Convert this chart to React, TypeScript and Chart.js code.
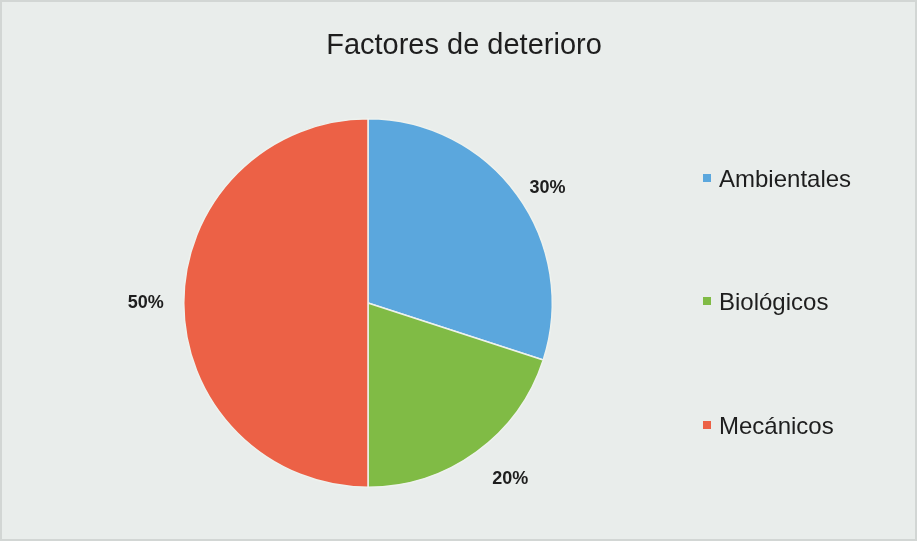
import React, { useEffect, useRef } from "react";
import { Chart, registerables } from "chart.js";

Chart.register(...registerables);

const title = "Factores de deterioro";
const categories = ["Ambientales", "Biológicos", "Mecánicos"];
const values = [30, 20, 50];
const valueLabels = ["30%", "20%", "50%"];
const colors = ["#5ba7dd", "#80bb45", "#ec6146"];

const W = 917;
const H = 541;
const FONT = "'Liberation Sans', Arial, sans-serif";

export default function App() {
  const ref = useRef<HTMLCanvasElement | null>(null);

  useEffect(() => {
    document.body.style.margin = "0";
    const canvas = ref.current;
    if (!canvas) return;

    const overlay = {
      id: "overlay",
      afterDraw(chart: any) {
        const ctx = chart.ctx;
        ctx.save();
        // title
        ctx.fillStyle = "#1e1e1e";
        ctx.font = `29px ${FONT}`;
        ctx.textAlign = "center";
        ctx.textBaseline = "middle";
        ctx.fillText(title, 464, 46);

        // value labels
        const meta = chart.getDatasetMeta(0);
        ctx.font = `bold 18px ${FONT}`;
        const offs = [
          [3, 13],
          [14, -1],
          [-4, 0],
        ];
        meta.data.forEach((arc: any, i: number) => {
          const mid = (arc.startAngle + arc.endAngle) / 2;
          const r = arc.outerRadius + 34;
          const x = arc.x + Math.cos(mid) * r + offs[i][0];
          const y = arc.y + Math.sin(mid) * r + offs[i][1];
          ctx.fillStyle = "#1e1e1e";
          ctx.fillText(valueLabels[i], x, y);
        });

        // legend
        ctx.font = `24px ${FONT}`;
        ctx.textAlign = "left";
        const ys = [178, 301, 425];
        categories.forEach((c, i) => {
          ctx.fillStyle = colors[i];
          ctx.fillRect(703, ys[i] - 4, 8, 8);
          ctx.fillStyle = "#1e1e1e";
          ctx.fillText(c, 719, ys[i] + 2);
        });
        ctx.restore();
      },
    };

    const chart = new Chart(canvas, {
      type: "pie",
      data: {
        labels: categories,
        datasets: [
          {
            data: values,
            backgroundColor: colors,
            borderColor: "#eef2ee",
            borderWidth: 1.5,
          },
        ],
      },
      options: {
        responsive: false,
        animation: false,
        layout: { padding: { top: 118, bottom: 53, left: 183, right: 364 } },
        plugins: {
          legend: { display: false },
          title: { display: false },
          tooltip: { enabled: false },
        },
      },
      plugins: [overlay],
    });
    return () => chart.destroy();
  }, []);

  return (
    <div
      style={{
        position: "absolute",
        left: 0,
        top: 0,
        width: W,
        height: H,
        background: "#e9edeb",
        boxSizing: "border-box",
        border: "2px solid #d2d6d4",
      }}
    >
      <canvas
        ref={ref}
        width={W}
        height={H}
        style={{ position: "absolute", left: -2, top: -2, width: W, height: H }}
      />
    </div>
  );
}
